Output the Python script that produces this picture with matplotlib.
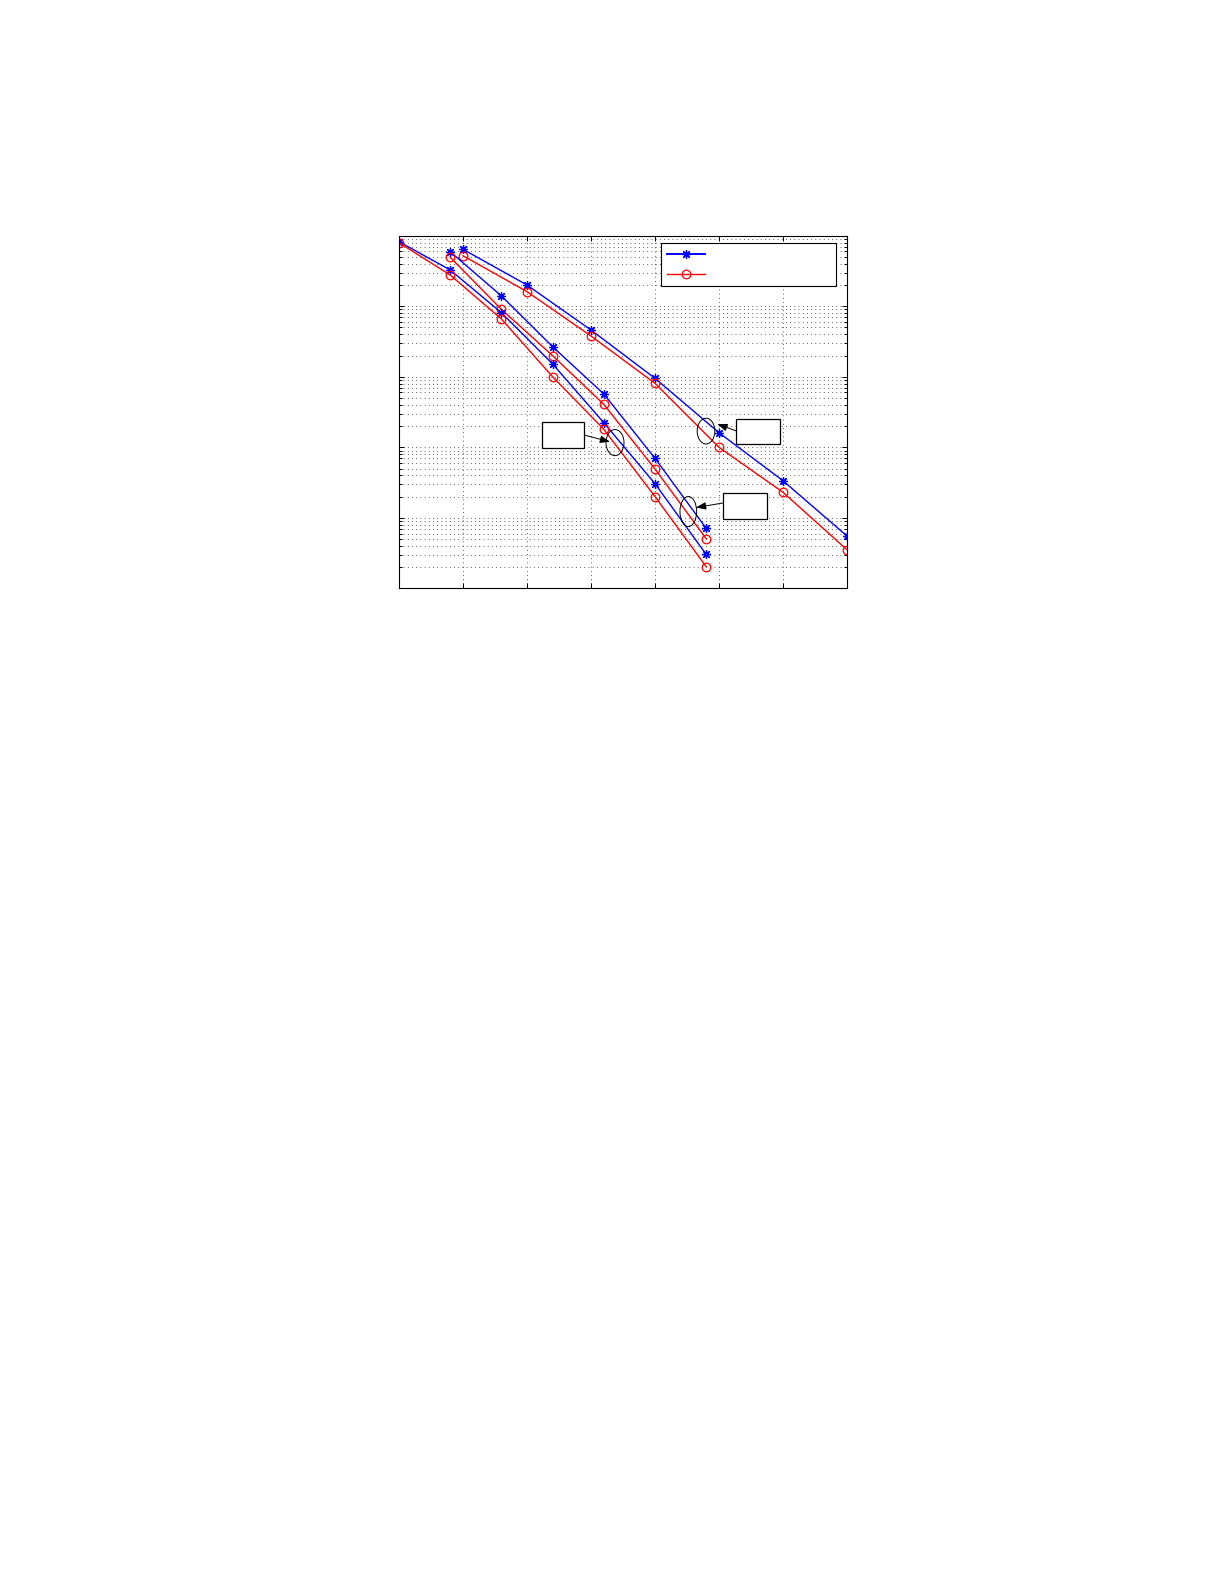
import matplotlib
matplotlib.use("Agg")
import matplotlib.pyplot as plt
from matplotlib.patches import Ellipse, Rectangle, FancyArrowPatch
from matplotlib.ticker import LogLocator, FixedLocator, NullFormatter

# ---- data ----
x_a = [5, 10, 15, 20, 25, 30, 35]
x_b = [4, 8, 12, 16, 20, 24]
x_c = [0, 4, 8, 12, 16, 20, 24]

a_blue = [0.641, 0.200, 0.0460, 0.00951, 0.00161, 3.36e-4, 5.52e-5]
a_red = [0.520, 0.161, 0.0378, 0.00807, 1.00e-3, 2.30e-4, 3.53e-5]
b_blue = [0.593, 0.140, 0.0267, 0.00570, 6.97e-4, 7.10e-5]
b_red = [0.493, 0.0904, 0.0199, 0.00406, 4.92e-4, 5.06e-5]
c_blue = [0.822, 0.327, 0.0809, 0.0152, 2.23e-3, 3.05e-4, 3.03e-5]
c_red = [0.796, 0.277, 0.0659, 0.0100, 1.80e-3, 2.00e-4, 2.03e-5]

x_ticks = [0, 5, 10, 15, 20, 25, 30, 35]
y_lim = (1e-5, 1e0)
legend_labels = [" ", " "]

blue = "#0000FF"
red = "#FF0000"

fig = plt.figure(figsize=(12.25, 15.85), dpi=100)
ax = fig.add_axes([399 / 1225, 1 - 588.4 / 1585, 448 / 1225, 352.7 / 1585])
ax.set_yscale("log")

star = dict(marker=(8, 2, 0), markersize=6.5, markeredgewidth=0.9)
circ = dict(marker="o", markersize=6.2, markerfacecolor="none", markeredgewidth=0.9)

hb, = ax.plot(x_a, a_blue, color=blue, lw=1.0, **star)
hr, = ax.plot(x_a, a_red, color=red, lw=1.0, **circ)
ax.plot(x_b, b_blue, color=blue, lw=1.0, **star)
ax.plot(x_b, b_red, color=red, lw=1.0, **circ)
ax.plot(x_c, c_blue, color=blue, lw=1.0, **star)
ax.plot(x_c, c_red, color=red, lw=1.0, **circ)

ax.set_xlim(x_ticks[0], x_ticks[-1])
ax.set_ylim(*y_lim)
ax.xaxis.set_major_locator(FixedLocator(x_ticks))
ax.yaxis.set_major_locator(LogLocator(base=10, numticks=10))
ax.yaxis.set_minor_locator(LogLocator(base=10, subs=range(2, 10), numticks=20))
ax.yaxis.set_minor_formatter(NullFormatter())
ax.tick_params(which="both", direction="in", top=True, right=True,
               labelbottom=False, labelleft=False, width=0.7)
ax.tick_params(which="major", length=3.5)
ax.tick_params(which="minor", length=2)
for s in ax.spines.values():
    s.set_linewidth(0.8)

grid_kw = dict(color="k", linewidth=0.55, linestyle=(0, (1, 4.5)))
ax.grid(True, which="major", axis="both", **grid_kw)
ax.grid(True, which="minor", axis="y", **grid_kw)

leg = ax.legend([hb, hr], legend_labels, loc="upper left",
                bbox_to_anchor=(0.584, 0.872, 0.391, 0.108), mode="expand",
                borderaxespad=0, fontsize=8, handlelength=3.4, borderpad=0.6,
                labelspacing=0.9, fancybox=False, framealpha=1, edgecolor="k")
leg.get_frame().set_linewidth(0.8)
leg.legend_handles[0].set_linewidth(1.4)

# annotation boxes, arrows and ellipses (axes-fraction coordinates)
boxes = [(0.3185, 0.3969, 0.0951, 0.0739),
         (0.7522, 0.4091, 0.0989, 0.0702),
         (0.7239, 0.1980, 0.0982, 0.0739)]
arrows = [((0.4136, 0.4347), (0.4710, 0.4156)),
          ((0.7522, 0.4469), (0.7105, 0.4659)),
          ((0.7239, 0.2423), (0.6629, 0.2293))]
ellipses = [((0.4821, 0.4134), 0.0402, 0.0739),
            ((0.6853, 0.4460), 0.0395, 0.0730),
            ((0.6458, 0.2179), 0.0373, 0.0852)]

for (bx, by, bw, bh) in boxes:
    ax.add_patch(Rectangle((bx, by), bw, bh, transform=ax.transAxes,
                           facecolor="white", edgecolor="k", lw=0.9, zorder=5))
for (p0, p1) in arrows:
    ax.add_patch(FancyArrowPatch(p0, p1, transform=ax.transAxes,
                                 arrowstyle="-|>,head_length=2.4,head_width=0.9",
                                 color="k", lw=0.7, shrinkA=0, shrinkB=0,
                                 mutation_scale=2.5, zorder=5))
for (c, w, h) in ellipses:
    ax.add_patch(Ellipse(c, w, h, transform=ax.transAxes, facecolor="none",
                         edgecolor="k", lw=0.7, zorder=5))

fig.savefig("out.png", dpi=100)
